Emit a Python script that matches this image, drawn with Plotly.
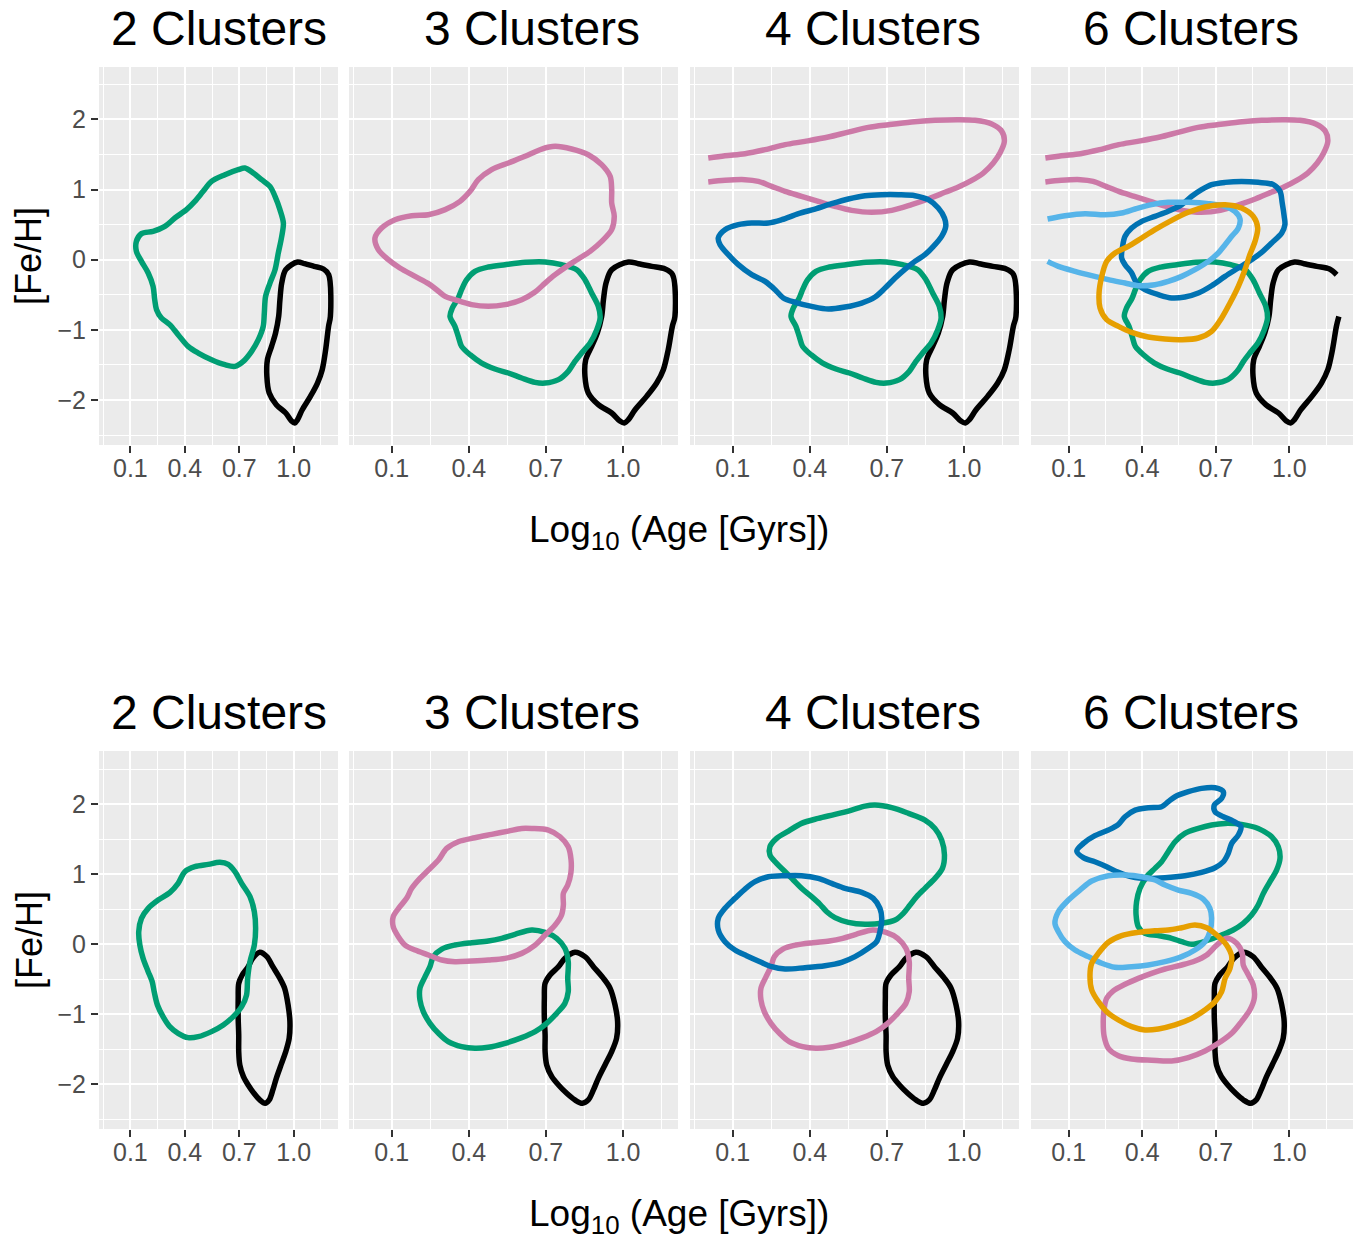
import plotly.graph_objects as go

# ---------------------------------------------------------------
# Density contours in the (Log10 age, [Fe/H]) plane, one path per
# cluster.  Top row and bottom row come from two different samples.
# ---------------------------------------------------------------

# ---- top row ----
# old, metal-poor cluster (same in every top panel); path starts at the
# upper-right break and runs counter-clockwise
black_top_x = [1.193, 1.164, 1.112, 1.060, 1.021, 0.956, 0.934, 0.924, 0.917, 0.900,
               0.878, 0.855, 0.852, 0.865, 0.904, 0.956, 0.988, 1.005, 1.021, 1.047,
               1.092, 1.131, 1.157, 1.176, 1.192, 1.202]
black_top_y = [-0.214, -0.133, -0.095, -0.057, -0.033, -0.143, -0.333, -0.570, -0.808, -1.045,
               -1.235, -1.425, -1.663, -1.900, -2.066, -2.185, -2.300, -2.328, -2.280, -2.138,
               -1.948, -1.758, -1.568, -1.283, -0.950, -0.810]

green2_top_x = [0.133, 0.161, 0.225, 0.290, 0.345, 0.409, 0.455, 0.501, 0.547, 0.621,
                0.694, 0.731, 0.777, 0.823, 0.869, 0.897, 0.924, 0.943, 0.934, 0.915,
                0.897, 0.869, 0.845, 0.838, 0.832, 0.805, 0.768, 0.722, 0.676, 0.621,
                0.547, 0.474, 0.418, 0.363, 0.317, 0.271, 0.244, 0.234, 0.225, 0.198,
                0.161, 0.133]
green2_top_y = [0.261, 0.371, 0.404, 0.475, 0.594, 0.713, 0.831, 0.974, 1.116, 1.211,
                1.283, 1.306, 1.235, 1.140, 1.045, 0.903, 0.713, 0.523, 0.333, 0.095,
                -0.143, -0.333, -0.523, -0.760, -0.950, -1.140, -1.306, -1.449, -1.520, -1.496,
                -1.425, -1.330, -1.235, -1.069, -0.926, -0.831, -0.713, -0.570, -0.380, -0.190,
                -0.024, 0.119]

green_top_x = [0.392, 0.424, 0.476, 0.541, 0.619, 0.697, 0.761, 0.820, 0.852, 0.878,
               0.904, 0.911, 0.898, 0.872, 0.839, 0.813, 0.787, 0.749, 0.697, 0.658,
               0.606, 0.554, 0.502, 0.450, 0.405, 0.372, 0.359, 0.346, 0.327, 0.336,
               0.359, 0.372]
green_top_y = [-0.285, -0.166, -0.105, -0.071, -0.038, -0.033, -0.071, -0.143, -0.285, -0.475,
               -0.665, -0.831, -0.998, -1.188, -1.330, -1.449, -1.591, -1.710, -1.758, -1.748,
               -1.686, -1.615, -1.558, -1.473, -1.354, -1.235, -1.093, -0.950, -0.808, -0.689,
               -0.546, -0.428]

pink3_top_x = [0.035, 0.061, 0.113, 0.178, 0.243, 0.308, 0.366, 0.405, 0.437, 0.489,
               0.554, 0.619, 0.684, 0.736, 0.800, 0.865, 0.917, 0.950, 0.956, 0.956,
               0.966, 0.956, 0.917, 0.872, 0.826, 0.781, 0.736, 0.697, 0.658, 0.606,
               0.541, 0.476, 0.411, 0.346, 0.308, 0.275, 0.243, 0.191, 0.132, 0.087,
               0.048]
pink3_top_y = [0.309, 0.451, 0.570, 0.627, 0.641, 0.713, 0.831, 0.974, 1.140, 1.283,
               1.378, 1.473, 1.577, 1.615, 1.577, 1.496, 1.354, 1.188, 0.998, 0.808,
               0.618, 0.428, 0.261, 0.119, 0.010, -0.095, -0.214, -0.333, -0.461, -0.570,
               -0.641, -0.665, -0.641, -0.570, -0.523, -0.428, -0.342, -0.238, -0.119, 0.000,
               0.143]

# metal-rich young cluster, open on the young side
pink_top_x = [0.005, 0.070, 0.148, 0.226, 0.304, 0.381, 0.472, 0.550, 0.628, 0.706,
              0.796, 0.887, 0.978, 1.043, 1.108, 1.147, 1.157, 1.140, 1.114, 1.075,
              1.030, 0.978, 0.926, 0.861, 0.796, 0.719, 0.641, 0.563, 0.498, 0.433,
              0.368, 0.304, 0.252, 0.200, 0.148, 0.070, 0.005]
pink_top_y = [1.449, 1.482, 1.511, 1.568, 1.639, 1.686, 1.748, 1.819, 1.886, 1.924,
              1.962, 1.986, 1.995, 1.986, 1.933, 1.829, 1.686, 1.520, 1.378, 1.235,
              1.131, 1.036, 0.960, 0.865, 0.784, 0.703, 0.675, 0.703, 0.760, 0.831,
              0.903, 0.974, 1.045, 1.116, 1.140, 1.131, 1.107]

blue4_top_x = [0.044, 0.070, 0.122, 0.174, 0.239, 0.291, 0.356, 0.420, 0.485, 0.550,
               0.615, 0.680, 0.745, 0.809, 0.861, 0.900, 0.924, 0.929, 0.913, 0.881,
               0.848, 0.809, 0.771, 0.732, 0.693, 0.654, 0.602, 0.537, 0.472, 0.407,
               0.343, 0.297, 0.265, 0.226, 0.174, 0.122, 0.083, 0.051]
blue4_top_y = [0.309, 0.428, 0.499, 0.523, 0.523, 0.570, 0.656, 0.722, 0.798, 0.865,
               0.912, 0.926, 0.926, 0.912, 0.855, 0.736, 0.594, 0.475, 0.333, 0.190,
               0.071, -0.024, -0.133, -0.261, -0.404, -0.532, -0.618, -0.675, -0.703, -0.665,
               -0.608, -0.546, -0.428, -0.309, -0.214, -0.071, 0.071, 0.214]

blue6_top_x = [0.738, 0.805, 0.873, 0.935, 0.962, 0.971, 0.979, 0.982, 0.969, 0.928,
               0.887, 0.846, 0.792, 0.738, 0.683, 0.629, 0.574, 0.520, 0.466, 0.411,
               0.377, 0.357, 0.330, 0.316, 0.320, 0.330, 0.357, 0.398, 0.452, 0.506,
               0.561, 0.602, 0.642, 0.683]
blue6_top_y = [1.102, 1.116, 1.102, 1.069, 0.974, 0.808, 0.618, 0.499, 0.380, 0.238,
               0.105, 0.000, -0.119, -0.238, -0.371, -0.475, -0.532, -0.546, -0.499, -0.428,
               -0.333, -0.190, -0.071, 0.024, 0.190, 0.333, 0.451, 0.546, 0.618, 0.689,
               0.784, 0.903, 0.998, 1.069]

# open on the young side
sky6_top_x = [0.014, 0.085, 0.167, 0.248, 0.316, 0.371, 0.438, 0.506, 0.588, 0.670,
              0.738, 0.778, 0.799, 0.792, 0.765, 0.738, 0.710, 0.670, 0.615, 0.561,
              0.506, 0.452, 0.384, 0.330, 0.262, 0.194, 0.126, 0.058, 0.014]
sky6_top_y = [0.580, 0.627, 0.656, 0.641, 0.665, 0.722, 0.784, 0.817, 0.817, 0.798,
              0.760, 0.689, 0.580, 0.451, 0.333, 0.214, 0.095, -0.024, -0.143, -0.238,
              -0.309, -0.356, -0.371, -0.333, -0.285, -0.228, -0.166, -0.095, -0.024]

orange6_top_x = [0.738, 0.805, 0.853, 0.871, 0.860, 0.839, 0.819, 0.792, 0.758, 0.724,
                 0.683, 0.629, 0.561, 0.493, 0.425, 0.357, 0.303, 0.255, 0.228, 0.224,
                 0.235, 0.255, 0.289, 0.343, 0.398, 0.452, 0.520, 0.588, 0.656]
orange6_top_y = [0.784, 0.736, 0.618, 0.451, 0.261, 0.071, -0.143, -0.380, -0.618, -0.831,
                 -1.021, -1.116, -1.140, -1.131, -1.102, -1.036, -0.950, -0.855, -0.689, -0.475,
                 -0.238, -0.024, 0.095, 0.190, 0.309, 0.428, 0.561, 0.675, 0.751]

# ---- bottom row ----
black_bot_x = [0.813, 0.852, 0.885, 0.924, 0.950, 0.969, 0.979, 0.975, 0.956, 0.930,
               0.904, 0.885, 0.865, 0.842, 0.813, 0.781, 0.749, 0.723, 0.703, 0.697,
               0.697, 0.694, 0.694, 0.697, 0.716, 0.749, 0.774]
black_bot_y = [-0.114, -0.176, -0.319, -0.486, -0.628, -0.866, -1.104, -1.342, -1.533, -1.723,
               -1.914, -2.080, -2.223, -2.271, -2.223, -2.128, -2.009, -1.890, -1.723, -1.533,
               -1.295, -1.057, -0.771, -0.557, -0.438, -0.319, -0.200]

green2_bot_x = [0.593, 0.639, 0.676, 0.713, 0.759, 0.783, 0.790, 0.783, 0.759, 0.746,
                0.740, 0.713, 0.667, 0.612, 0.547, 0.474, 0.418, 0.363, 0.317, 0.280,
                0.249, 0.231, 0.220, 0.198, 0.170, 0.152, 0.146, 0.161, 0.198, 0.253,
                0.317, 0.363, 0.400, 0.455, 0.529]
green2_bot_y = [1.171, 1.142, 1.038, 0.871, 0.681, 0.466, 0.228, -0.010, -0.248, -0.486,
                -0.724, -0.890, -1.033, -1.152, -1.247, -1.319, -1.333, -1.271, -1.176, -1.033,
                -0.866, -0.676, -0.533, -0.390, -0.200, -0.010, 0.181, 0.371, 0.514, 0.633,
                0.738, 0.871, 1.038, 1.109, 1.142]

pink3_bot_x = [0.645, 0.710, 0.755, 0.787, 0.798, 0.797, 0.785, 0.768, 0.768, 0.761,
               0.736, 0.697, 0.658, 0.606, 0.541, 0.476, 0.411, 0.346, 0.295, 0.243,
               0.191, 0.152, 0.126, 0.106, 0.106, 0.132, 0.158, 0.178, 0.210, 0.243,
               0.282, 0.314, 0.359, 0.424, 0.489, 0.554, 0.606]
pink3_bot_y = [1.656, 1.633, 1.537, 1.395, 1.204, 1.014, 0.847, 0.728, 0.562, 0.419,
               0.276, 0.133, -0.010, -0.129, -0.200, -0.224, -0.238, -0.248, -0.224, -0.152,
               -0.081, -0.010, 0.109, 0.252, 0.395, 0.538, 0.657, 0.800, 0.942, 1.061,
               1.204, 1.371, 1.466, 1.523, 1.571, 1.618, 1.656]

# intermediate cluster (green with 3 clusters, pink with 4)
mid_bot_x = [0.645, 0.697, 0.742, 0.774, 0.787, 0.785, 0.787, 0.774, 0.742, 0.703,
             0.658, 0.606, 0.541, 0.476, 0.424, 0.372, 0.320, 0.282, 0.249, 0.223,
             0.210, 0.210, 0.230, 0.249, 0.262, 0.295, 0.346, 0.411, 0.476, 0.528,
             0.580]
mid_bot_y = [0.205, 0.171, 0.086, -0.057, -0.248, -0.486, -0.676, -0.843, -0.985, -1.128,
             -1.247, -1.333, -1.414, -1.471, -1.485, -1.461, -1.390, -1.271, -1.128, -0.962,
             -0.795, -0.628, -0.462, -0.319, -0.176, -0.067, -0.010, 0.024, 0.048, 0.086,
             0.143]

green4_bot_x = [0.654, 0.719, 0.784, 0.848, 0.887, 0.913, 0.924, 0.916, 0.887, 0.848,
                0.816, 0.790, 0.764, 0.732, 0.680, 0.615, 0.550, 0.498, 0.466, 0.440,
                0.407, 0.368, 0.336, 0.304, 0.271, 0.245, 0.245, 0.271, 0.317, 0.368,
                0.433, 0.498, 0.563, 0.615]
green4_bot_y = [1.990, 1.952, 1.871, 1.775, 1.656, 1.490, 1.276, 1.085, 0.942, 0.800,
                0.681, 0.562, 0.443, 0.347, 0.300, 0.286, 0.314, 0.381, 0.466, 0.571,
                0.681, 0.800, 0.919, 1.038, 1.157, 1.276, 1.395, 1.514, 1.618, 1.728,
                1.799, 1.856, 1.918, 1.975]

blue4_bot_x = [0.304, 0.368, 0.433, 0.485, 0.537, 0.602, 0.647, 0.673, 0.680, 0.673,
               0.660, 0.628, 0.576, 0.524, 0.459, 0.381, 0.304, 0.252, 0.206, 0.154,
               0.109, 0.070, 0.044, 0.044, 0.070, 0.109, 0.148, 0.187, 0.239]
blue4_bot_y = [0.981, 0.981, 0.942, 0.871, 0.800, 0.743, 0.657, 0.514, 0.371, 0.181,
               0.038, -0.057, -0.176, -0.257, -0.305, -0.333, -0.352, -0.319, -0.248, -0.162,
               -0.081, 0.038, 0.205, 0.371, 0.514, 0.657, 0.790, 0.895, 0.966]

blue6_bot_x = [0.133, 0.160, 0.207, 0.262, 0.303, 0.330, 0.371, 0.425, 0.479, 0.506,
               0.534, 0.588, 0.642, 0.697, 0.731, 0.724, 0.694, 0.697, 0.731, 0.771,
               0.803, 0.792, 0.765, 0.751, 0.731, 0.697, 0.642, 0.574, 0.493, 0.425,
               0.357, 0.303, 0.255, 0.207, 0.160]
blue6_bot_y = [1.333, 1.442, 1.552, 1.633, 1.714, 1.823, 1.918, 1.952, 1.966, 2.037,
               2.109, 2.180, 2.228, 2.237, 2.180, 2.085, 1.990, 1.894, 1.823, 1.761,
               1.680, 1.561, 1.442, 1.300, 1.180, 1.095, 1.028, 0.981, 0.952, 0.942,
               0.966, 1.028, 1.109, 1.180, 1.238]

green6_bot_x = [0.738, 0.805, 0.873, 0.928, 0.955, 0.962, 0.948, 0.921, 0.894, 0.873,
                0.846, 0.812, 0.771, 0.724, 0.683, 0.642, 0.602, 0.561, 0.520, 0.466,
                0.411, 0.384, 0.375, 0.377, 0.391, 0.418, 0.452, 0.479, 0.506, 0.534,
                0.574, 0.629, 0.683]
green6_bot_y = [1.728, 1.714, 1.656, 1.537, 1.395, 1.228, 1.061, 0.895, 0.728, 0.562,
                0.419, 0.300, 0.205, 0.133, 0.076, 0.029, 0.000, 0.038, 0.086, 0.124,
                0.157, 0.252, 0.419, 0.609, 0.800, 0.966, 1.085, 1.180, 1.323, 1.466,
                1.585, 1.656, 1.704]

sky6_bot_x = [0.044, 0.058, 0.099, 0.146, 0.194, 0.262, 0.330, 0.398, 0.452, 0.493,
              0.547, 0.602, 0.649, 0.676, 0.683, 0.676, 0.656, 0.615, 0.561, 0.493,
              0.425, 0.357, 0.289, 0.235, 0.180, 0.126, 0.085, 0.058]
sky6_bot_y = [0.300, 0.466, 0.633, 0.776, 0.904, 0.981, 0.990, 0.966, 0.919, 0.847,
              0.776, 0.728, 0.647, 0.514, 0.371, 0.181, 0.038, -0.081, -0.176, -0.248,
              -0.295, -0.319, -0.328, -0.271, -0.176, -0.081, 0.038, 0.181]

orange6_bot_x = [0.615, 0.663, 0.704, 0.744, 0.765, 0.758, 0.738, 0.724, 0.697, 0.656,
                 0.602, 0.534, 0.466, 0.411, 0.357, 0.303, 0.255, 0.221, 0.194, 0.187,
                 0.194, 0.221, 0.262, 0.316, 0.384, 0.452, 0.506, 0.561]
orange6_bot_y = [0.276, 0.238, 0.133, -0.010, -0.176, -0.343, -0.486, -0.676, -0.819, -0.938,
                 -1.057, -1.152, -1.209, -1.223, -1.176, -1.081, -0.962, -0.819, -0.652, -0.438,
                 -0.271, -0.129, 0.029, 0.124, 0.171, 0.195, 0.205, 0.238]

pink6_bot_x = [0.744, 0.785, 0.808, 0.812, 0.833, 0.853, 0.857, 0.839, 0.805, 0.765,
               0.710, 0.656, 0.588, 0.520, 0.438, 0.357, 0.303, 0.262, 0.245, 0.241,
               0.245, 0.255, 0.282, 0.330, 0.384, 0.438, 0.493, 0.561, 0.615, 0.663,
               0.704]
pink6_bot_y = [0.086, 0.014, -0.129, -0.295, -0.438, -0.581, -0.771, -0.938, -1.104, -1.271,
               -1.414, -1.523, -1.618, -1.666, -1.656, -1.637, -1.590, -1.485, -1.319, -1.104,
               -0.914, -0.771, -0.666, -0.571, -0.486, -0.414, -0.352, -0.295, -0.238, -0.152,
               -0.010]

# ---- panels ----
panel_titles = ["2 Clusters", "3 Clusters", "4 Clusters", "6 Clusters"]
x_tick_vals = [0.1, 0.4, 0.7, 1.0]
y_tick_vals = [-2, -1, 0, 1, 2]

COL = {
    "black": "#000000", "green": "#009E73", "pink": "#CC79A7",
    "blue": "#0072B2", "sky": "#56B4E9", "orange": "#E69F00",
}

# (colour, xs, ys, closed)
panel_paths = [
    [("black", black_top_x, black_top_y, True), ("green", green2_top_x, green2_top_y, True)],
    [("black", black_top_x, black_top_y, True), ("green", green_top_x, green_top_y, True),
     ("pink", pink3_top_x, pink3_top_y, True)],
    [("black", black_top_x, black_top_y, True), ("green", green_top_x, green_top_y, True),
     ("pink", pink_top_x, pink_top_y, False), ("blue", blue4_top_x, blue4_top_y, True)],
    [("black", black_top_x, black_top_y, False), ("green", green_top_x, green_top_y, True),
     ("pink", pink_top_x, pink_top_y, False), ("blue", blue6_top_x, blue6_top_y, True),
     ("sky", sky6_top_x, sky6_top_y, False), ("orange", orange6_top_x, orange6_top_y, True)],
    [("black", black_bot_x, black_bot_y, True), ("green", green2_bot_x, green2_bot_y, True)],
    [("black", black_bot_x, black_bot_y, True), ("green", mid_bot_x, mid_bot_y, True),
     ("pink", pink3_bot_x, pink3_bot_y, True)],
    [("black", black_bot_x, black_bot_y, True), ("green", green4_bot_x, green4_bot_y, True),
     ("pink", mid_bot_x, mid_bot_y, True), ("blue", blue4_bot_x, blue4_bot_y, True)],
    [("black", black_bot_x, black_bot_y, True), ("green", green6_bot_x, green6_bot_y, True),
     ("pink", pink6_bot_x, pink6_bot_y, True), ("blue", blue6_bot_x, blue6_bot_y, True),
     ("sky", sky6_bot_x, sky6_bot_y, True), ("orange", orange6_bot_x, orange6_bot_y, True)],
]

W, H = 1359, 1238
# panel rectangles in pixels: (left, right) per column, (top, bottom) per row
col_px = [(99, 338), (349, 678), (690, 1019), (1031, 1353)]
row_px = [(67, 445), (751, 1129)]
x_ranges = [(-0.073, 1.244), (-0.066, 1.214), (-0.066, 1.214), (-0.0536, 1.2597)]
y_ranges = [(-2.641, 2.746), (-2.638, 2.762)]
title_cx = [219, 532, 873, 1191]

FONT = "Liberation Sans, Arial, Helvetica, sans-serif"

fig = go.Figure()
layout = dict(
    width=W, height=H, margin=dict(l=0, r=0, t=0, b=0),
    paper_bgcolor="white", plot_bgcolor="#EBEBEB",
    showlegend=False, font=dict(family=FONT),
    annotations=[],
)

for i, paths in enumerate(panel_paths):
    n = i + 1
    r, c = divmod(i, 4)
    xa = "x" if n == 1 else f"x{n}"
    ya = "y" if n == 1 else f"y{n}"
    for colour, xs, ys, closed in paths:
        px_, py_ = list(xs), list(ys)
        if closed:
            px_.append(xs[0])
            py_.append(ys[0])
        fig.add_trace(go.Scatter(
            x=px_, y=py_, mode="lines", xaxis=xa, yaxis=ya,
            line=dict(color=COL[colour], width=5.5, shape="spline", smoothing=0.9),
            hoverinfo="skip",
        ))

    l, rt = col_px[c]
    top, bot = row_px[r]
    layout["xaxis" if n == 1 else f"xaxis{n}"] = dict(
        domain=[l / W, rt / W], range=list(x_ranges[c]), anchor=ya,
        tickmode="array", tickvals=x_tick_vals,
        ticktext=[f"{v:.1f}" for v in x_tick_vals],
        ticks="outside", ticklen=7, tickwidth=2, tickcolor="#333333",
        ticklabelstandoff=-6,
        tickfont=dict(size=25, color="#4D4D4D", family=FONT),
        showgrid=True, gridcolor="white", gridwidth=2,
        minor=dict(tickmode="linear", tick0=-0.05, dtick=0.3, showgrid=True,
                   gridcolor="white", gridwidth=1, ticks=""),
        zeroline=False, showline=False, fixedrange=True,
    )
    layout["yaxis" if n == 1 else f"yaxis{n}"] = dict(
        domain=[1 - bot / H, 1 - top / H], range=list(y_ranges[r]), anchor=xa,
        tickmode="array", tickvals=y_tick_vals,
        ticktext=[("\u2212" + str(-v)) if v < 0 else str(v) for v in y_tick_vals],
        ticks="outside" if c == 0 else "", ticklen=7, tickwidth=2, tickcolor="#333333",
        showticklabels=(c == 0),
        tickfont=dict(size=25, color="#4D4D4D", family=FONT),
        showgrid=True, gridcolor="white", gridwidth=2,
        minor=dict(tickmode="linear", tick0=0.5, dtick=1, showgrid=True,
                   gridcolor="white", gridwidth=1, ticks=""),
        zeroline=False, showline=False, fixedrange=True,
    )
    # panel title
    layout["annotations"].append(dict(
        text=panel_titles[c], x=title_cx[c] / W, y=1 - (28 + 684 * r) / H,
        xref="paper", yref="paper", xanchor="center", yanchor="middle",
        showarrow=False, font=dict(size=48, color="black", family=FONT),
    ))

# axis titles for both rows
for r, (xt_y, yt_y) in enumerate([(532, 256), (1216, 940)]):
    layout["annotations"].append(dict(
        text="Log<sub>10</sub> (Age [Gyrs])", x=679 / W, y=1 - xt_y / H,
        xref="paper", yref="paper", xanchor="center", yanchor="middle",
        showarrow=False, font=dict(size=37, color="black", family=FONT),
    ))
    layout["annotations"].append(dict(
        text="[Fe/H]", x=29 / W, y=1 - yt_y / H, textangle=-90,
        xref="paper", yref="paper", xanchor="center", yanchor="middle",
        showarrow=False, font=dict(size=36, color="black", family=FONT),
    ))

fig.update_layout(**layout)
fig.write_html("out.html")
